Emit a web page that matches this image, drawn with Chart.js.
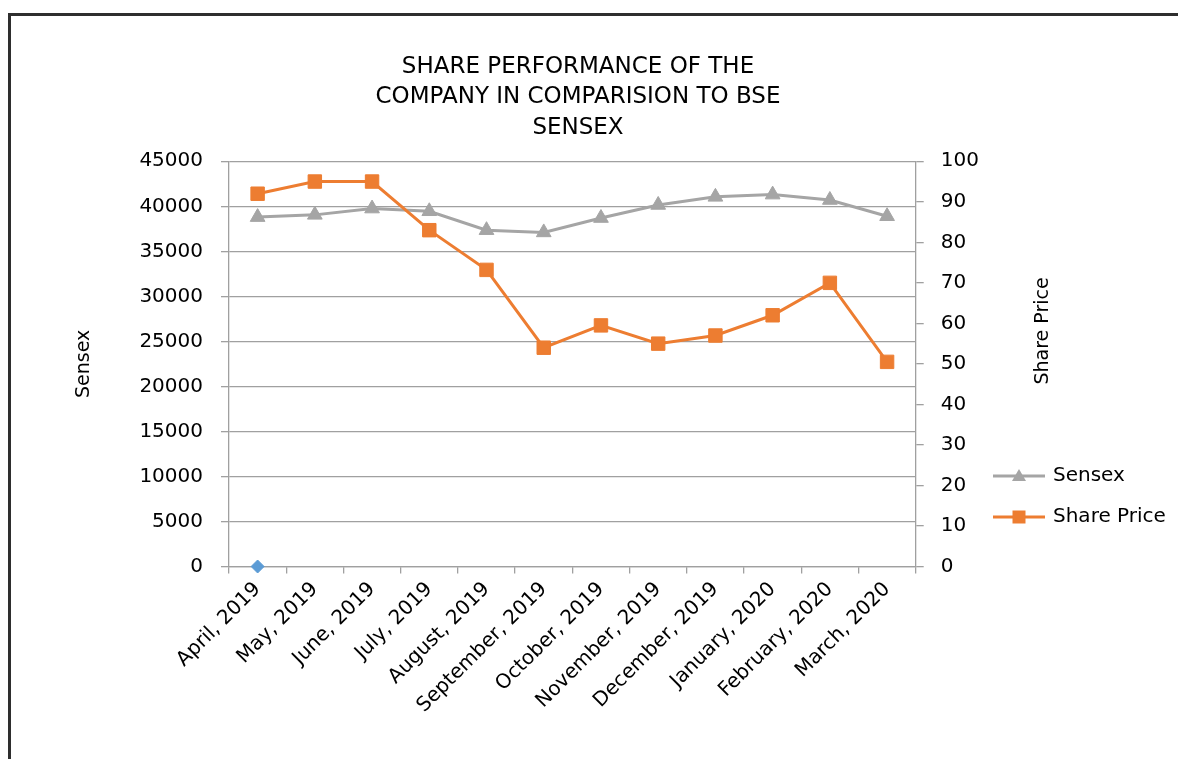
<!DOCTYPE html>
<html>
<head>
<meta charset="utf-8">
<title>Share performance</title>
<script src="https://cdn.jsdelivr.net/npm/chart.js@4.4.1/dist/chart.umd.min.js"></script>
<style>
  html, body { margin: 0; padding: 0; background: #fff; overflow: hidden; }
  #wrap { position: relative; width: 1178px; height: 759px; }
  #frame {
    position: absolute; left: 8px; top: 13px; width: 1178px; height: 759px;
    border-top: 3px solid #2e2e2e; border-left: 3px solid #2e2e2e;
  }
  #chart { position: absolute; left: 0; top: 0; }
</style>
</head>
<body>
<div id="wrap">
  <div id="frame"></div>
  <canvas id="chart" width="1178" height="759"></canvas>
</div>
<script>
// Datos
const months = ['April, 2019', 'May, 2019', 'June, 2019', 'July, 2019', 'August, 2019',
  'September, 2019', 'October, 2019', 'November, 2019', 'December, 2019',
  'January, 2020', 'February, 2020', 'March, 2020'];
const sensex = [38800, 39050, 39750, 39450, 37350, 37100, 38700, 40150, 41050, 41300, 40700, 38900];
const sharePrice = [92, 95, 95, 83, 73.2, 54, 59.5, 55, 57, 62, 70, 50.5];
const stray = [0, null, null, null, null, null, null, null, null, null, null, null];

const titleLines = ['SHARE PERFORMANCE OF THE', 'COMPANY IN COMPARISION TO BSE', 'SENSEX'];
const leftTitle = 'Sensex';
const rightTitle = 'Share Price';

const FONT = '"DejaVu Sans", sans-serif';
const GREY = '#a5a5a5';
const ORANGE = '#ed7d31';
const BLUE = '#5b9bd5';
const AXIS = '#a0a0a0';

// iconos de la leyenda: línea + marcador
function makeIcon(color, shape) {
    const c = document.createElement('canvas');
    c.width = 52; c.height = 18;
    const g = c.getContext('2d');
    g.strokeStyle = color; g.lineWidth = 3;
    g.beginPath(); g.moveTo(0, 9); g.lineTo(52, 9); g.stroke();
    g.fillStyle = color;
    g.beginPath();
    if (shape === 'triangle') {
        g.moveTo(26, 2); g.lineTo(33, 14); g.lineTo(19, 14);
    } else {
        g.rect(19.5, 2.5, 13, 13);
    }
    g.closePath(); g.fill();
    return c;
}
const icons = [makeIcon(GREY, 'triangle'), makeIcon(ORANGE, 'rect')];

// la leyenda va debajo del título del eje derecho, como en Excel
const placeLegend = {
    id: 'placeLegend',
    afterLayout(chart) {
        const lg = chart.legend;
        if (!lg) return;
        lg.left = 995 - lg.options.labels.padding;
        lg.right = chart.width;
        lg.bottom = 548;
        lg.top = 548 - 100;
    }
};

const drawRightTitle = {
    id: 'drawRightTitle',
    afterDraw(chart) {
        const ctx = chart.ctx;
        ctx.save();
        ctx.translate(1043, 331);
        ctx.rotate(-Math.PI / 2);
        ctx.font = '19px ' + FONT;
        ctx.fillStyle = '#000';
        ctx.textAlign = 'center';
        ctx.textBaseline = 'middle';
        ctx.fillText(rightTitle, 0, 0);
        ctx.restore();
    }
};

Chart.defaults.font.family = FONT;
Chart.defaults.color = '#000';

new Chart(document.getElementById('chart'), {
    type: 'line',
    data: {
        labels: months,
        datasets: [
            {
                label: 'Sensex',
                data: sensex,
                yAxisID: 'y',
                borderColor: GREY,
                backgroundColor: GREY,
                borderWidth: 3,
                tension: 0,
                pointStyle: 'triangle',
                pointRadius: 8.5,
                pointBorderWidth: 1,
                order: 2
            },
            {
                label: 'Share Price',
                data: sharePrice,
                yAxisID: 'y1',
                borderColor: ORANGE,
                backgroundColor: ORANGE,
                borderWidth: 3,
                tension: 0,
                pointStyle: 'rect',
                pointRadius: 9.5,
                pointBorderWidth: 1,
                order: 1
            },
            {
                label: 'Series3',
                data: stray,
                yAxisID: 'y',
                borderColor: BLUE,
                backgroundColor: BLUE,
                showLine: false,
                clip: false,
                pointStyle: 'rectRot',
                pointRadius: 6.5,
                pointBorderWidth: 1,
                order: 0
            }
        ]
    },
    options: {
        responsive: false,
        animation: false,
        layout: { padding: { left: 0, right: 22, top: 0, bottom: 0 } },
        plugins: {
            title: {
                display: true,
                text: titleLines,
                color: '#000',
                font: { size: 23, weight: 'normal', lineHeight: 1.326 },
                padding: { top: 51.7, bottom: 18.1 }
            },
            legend: {
                position: 'right',
                align: 'end',
                fullSize: false,
                maxWidth: 160,
                labels: {
                    usePointStyle: true,
                    pointStyleWidth: 48,
                    padding: 21,
                    color: '#000',
                    font: { size: 20 },
                    filter: (item) => item.datasetIndex < 2,
                    sort: (a, b) => a.datasetIndex - b.datasetIndex,
                    generateLabels: function(chart) {
                        return Chart.defaults.plugins.legend.labels.generateLabels(chart)
                            .map(item => Object.assign(item, { pointStyle: icons[item.datasetIndex] }));
                    }
                }
            },
            tooltip: { enabled: false }
        },
        scales: {
            x: {
                offset: true,
                grid: { offset: true, drawOnChartArea: false, tickLength: 7, color: AXIS, lineWidth: 1.3 },
                border: { color: AXIS, width: 1.3 },
                ticks: { autoSkip: false, minRotation: 45, maxRotation: 45, font: { size: 20 }, padding: 4 },
                afterFit: (s) => { s.height = 759 - 566.5; }
            },
            y: {
                position: 'left',
                min: 0, max: 45000,
                ticks: { stepSize: 5000, font: { size: 20 }, padding: 18, callback: (v) => String(v) },
                grid: { color: AXIS, lineWidth: 1.3, tickLength: 8 },
                border: { color: AXIS, width: 1.3 },
                title: {
                    display: true, text: leftTitle,
                    font: { size: 19 },
                    padding: { top: 72.6, bottom: 0 }
                },
                afterFit: (s) => { s.width = 229; }
            },
            y1: {
                position: 'right',
                min: 0, max: 100,
                ticks: { stepSize: 10, font: { size: 20 }, padding: 17, callback: (v) => String(v) },
                grid: { drawOnChartArea: false, color: AXIS, lineWidth: 1.3, tickLength: 8 },
                border: { color: AXIS, width: 1.3 },
                afterFit: (s) => { s.width = 80.3; }
            }
        }
    },
    plugins: [placeLegend, drawRightTitle]
});
</script>
</body>
</html>
